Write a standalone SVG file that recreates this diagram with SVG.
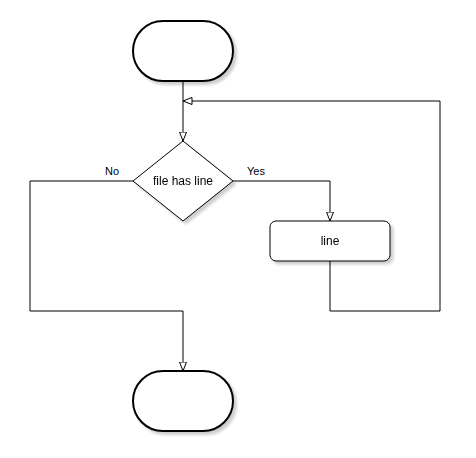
<svg xmlns="http://www.w3.org/2000/svg" width="476" height="458" viewBox="0 0 476 458">
<defs>
<style>
.shape{fill:#fff;stroke:#000;}
.term{stroke-width:2;}
.proc{stroke-width:1;}
.edge{fill:none;stroke:#000;stroke-width:1;}
text{font-family:"Liberation Sans",Arial,sans-serif;font-size:12px;fill:#000;}
.lbl{font-size:11px;}
</style>
<filter id="sh" x="-20%" y="-20%" width="150%" height="160%">
<feGaussianBlur in="SourceAlpha" stdDeviation="1.5"/>
<feOffset dx="3" dy="3" result="b"/>
<feComponentTransfer><feFuncA type="linear" slope="0.2"/></feComponentTransfer>
<feMerge><feMergeNode/><feMergeNode in="SourceGraphic"/></feMerge>
</filter>
<marker id="arr" viewBox="0 0 10 8" refX="9.5" refY="4" markerWidth="10" markerHeight="8" markerUnits="userSpaceOnUse" orient="auto">
<path d="M0.5,0.5 L9.5,4 L0.5,7.5 Z" fill="#fff" stroke="#000" stroke-width="1"/>
</marker>
</defs>
<rect width="476" height="458" fill="#fff"/>
<g id="connectors">
<path class="edge" d="M183,81 V141" marker-end="url(#arr)"/>
<path class="edge" d="M133,181 H30 V311 H183 V371" marker-end="url(#arr)"/>
<path class="edge" d="M233,181 H330 V221" marker-end="url(#arr)"/>
<path class="edge" d="M330,261 V311 H440 V101 H183" marker-end="url(#arr)"/>
<text class="lbl" x="112" y="175" text-anchor="middle">No</text>
<text class="lbl" x="256" y="175" text-anchor="middle">Yes</text>
</g>
<g id="start" filter="url(#sh)">
<rect class="shape term" x="133" y="21" width="100" height="60" rx="30" ry="30"/>
</g>
<g id="decision" filter="url(#sh)">
<path class="shape proc" d="M183,141 L233,181 L183,221 L133,181 Z"/>
<text x="183" y="185" text-anchor="middle">file has line</text>
</g>
<g id="line" filter="url(#sh)">
<rect class="shape proc" x="270" y="221" width="120" height="40" rx="6" ry="6"/>
<text x="330" y="245" text-anchor="middle">line</text>
</g>
<g id="end" filter="url(#sh)">
<rect class="shape term" x="133" y="371" width="100" height="60" rx="30" ry="30"/>
</g>
</svg>
